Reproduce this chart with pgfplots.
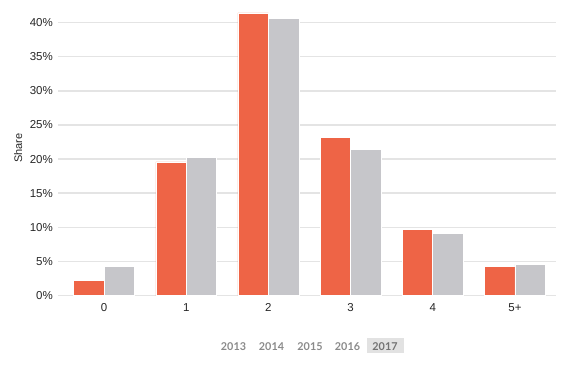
\documentclass[border=0pt]{standalone}
\usepackage{pgfplots}
\pgfplotsset{compat=1.18}
\usepackage{fontspec}
\setmainfont{Liberation Sans}
\newfontfamily\legfont{Lato}
\definecolor{barred}{HTML}{EE6446}
\definecolor{bargray}{HTML}{C6C6CA}
\definecolor{gridc}{HTML}{E4E4E4}
\definecolor{txt}{HTML}{262626}
\definecolor{legtxt}{HTML}{8A8A8A}
\definecolor{legbox}{HTML}{E2E2E2}
\begin{document}
\begin{tikzpicture}[x=1pt,y=1pt]
\useasboundingbox (0,0) rectangle (561,366);
\begin{axis}[
  at={(58pt,70.3pt)}, anchor=south west,
  scale only axis, width=498pt, height=286.9pt,
  xmin=-0.56, xmax=5.5, ymin=0, ymax=42,
  axis line style={draw=none},
  tick style={draw=none},
  major tick length=0pt,
  ytick={0,5,...,40},
  yticklabel={\pgfmathprintnumber{\tick}\%},
  xtick={0,1,2,3,4,5},
  xticklabels={0,1,2,3,4,5+},
  ymajorgrids,
  grid style={gridc, line width=1.5pt},
  /pgf/number format/assume math mode=true,
  tick label style={font=\fontsize{11.5}{13}\selectfont, text=txt, inner sep=0pt},
  yticklabel style={anchor=east, xshift=-5pt},
  xticklabel style={anchor=north, yshift=-7.6pt},
  ybar, bar width=0.37,
]
\addplot[fill=barred, draw=white, line width=0.5pt, bar shift=-0.185]
  coordinates {(0,2.25) (1,19.6) (2,41.4) (3,23.2) (4,9.7) (5,4.3)};
\addplot[fill=bargray, draw=white, line width=0.5pt, bar shift=0.185]
  coordinates {(0,4.3) (1,20.3) (2,40.65) (3,21.4) (4,9.15) (5,4.6)};
\end{axis}
\node[rotate=90, font=\fontsize{11}{13}\selectfont, text=txt] at (18.3,218) {Share};
\fill[legbox] (366.7,12.7) rectangle (404,27.7);
\begin{scope}[every node/.style={font=\legfont\bfseries\fontsize{10.8}{12}\selectfont, text=legtxt, inner sep=0pt}]
\node at (233.5,19.3) {2013};
\node at (271.5,19.3) {2014};
\node at (310,19.3) {2015};
\node at (347.5,19.3) {2016};
\node[text=gray!90!black] at (385,19.3) {2017};
\end{scope}
\end{tikzpicture}
\end{document}
